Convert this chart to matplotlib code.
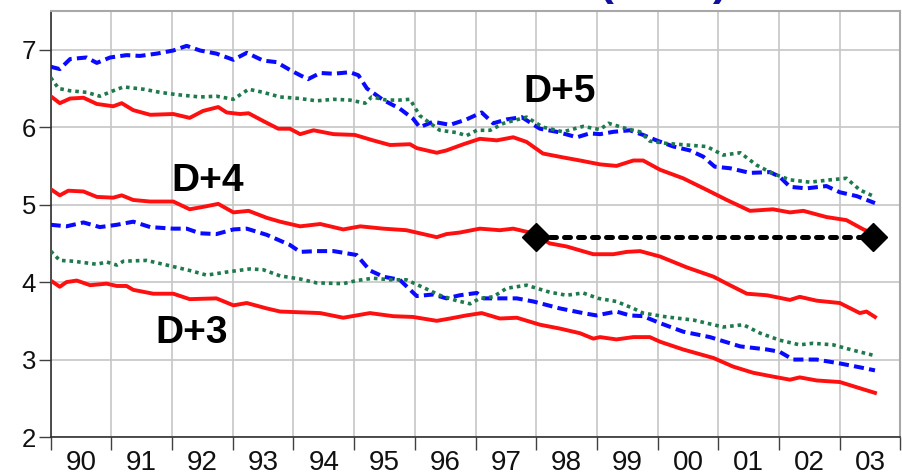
import matplotlib
matplotlib.use("Agg")
import matplotlib.pyplot as plt
from matplotlib.ticker import FixedLocator, NullFormatter, FixedFormatter

plt.rcParams['font.family'] = ['Liberation Sans', 'DejaVu Sans']

# ---------------- data ----------------
year_labels = ['90', '91', '92', '93', '94', '95', '96', '97', '98', '99', '00', '01', '02', '03']
year_start = 1990

# D+5 group
d5_blue_t = [1990.00, 1990.15, 1990.32, 1990.59, 1990.76, 1990.98, 1991.25, 1991.47, 1991.75, 1992.02,
             1992.24, 1992.46, 1992.73, 1993.01, 1993.23, 1993.50, 1993.72, 1993.94, 1994.11, 1994.24,
             1994.44, 1994.66, 1994.93, 1995.07, 1995.21, 1995.48, 1995.75, 1995.97, 1996.08, 1996.30,
             1996.58, 1996.85, 1997.10, 1997.29, 1997.51, 1997.76, 1998.06, 1998.34, 1998.67, 1998.88,
             1999.05, 1999.27, 1999.54, 1999.76, 1999.98, 2000.26, 2000.53, 2000.75, 2000.94, 2001.19,
             2001.52, 2001.85, 2002.01, 2002.18, 2002.45, 2002.78, 2003.00, 2003.28, 2003.58]
d5_blue_v = [6.78, 6.75, 6.88, 6.90, 6.83, 6.90, 6.93, 6.92, 6.95, 6.99,
             7.05, 6.99, 6.95, 6.87, 6.96, 6.86, 6.84, 6.74, 6.67, 6.62,
             6.70, 6.69, 6.71, 6.67, 6.50, 6.35, 6.24, 6.11, 6.00, 6.07,
             6.03, 6.10, 6.19, 6.05, 6.10, 6.13, 5.98, 5.94, 5.87, 5.92,
             5.91, 5.94, 5.96, 5.90, 5.83, 5.75, 5.70, 5.62, 5.49, 5.47,
             5.41, 5.42, 5.36, 5.23, 5.21, 5.24, 5.16, 5.11, 5.02]

d5_green_t = [1990.00, 1990.13, 1990.32, 1990.59, 1990.81, 1991.03, 1991.20, 1991.53, 1991.80, 1992.08,
              1992.46, 1992.73, 1993.01, 1993.26, 1993.50, 1993.78, 1994.11, 1994.38, 1994.66, 1994.93,
              1995.18, 1995.29, 1995.53, 1995.75, 1995.92, 1996.08, 1996.41, 1996.69, 1996.85, 1997.02,
              1997.24, 1997.46, 1997.84, 1998.11, 1998.44, 1998.77, 1999.05, 1999.19, 1999.49, 1999.71,
              1999.87, 2000.15, 2000.48, 2000.81, 2001.08, 2001.36, 2001.63, 2001.90, 2002.18, 2002.51,
              2002.84, 2003.11, 2003.33, 2003.58]
d5_green_v = [6.64, 6.50, 6.47, 6.45, 6.40, 6.47, 6.52, 6.49, 6.45, 6.42,
              6.39, 6.40, 6.36, 6.49, 6.45, 6.39, 6.37, 6.34, 6.36, 6.35,
              6.31, 6.39, 6.35, 6.35, 6.36, 6.15, 5.96, 5.93, 5.89, 5.96,
              5.96, 6.05, 6.13, 6.00, 5.94, 6.01, 5.97, 6.05, 5.98, 5.94,
              5.82, 5.79, 5.77, 5.75, 5.64, 5.67, 5.51, 5.40, 5.32, 5.29,
              5.32, 5.34, 5.19, 5.10]

d5_red_t = [1990.00, 1990.15, 1990.32, 1990.54, 1990.76, 1991.03, 1991.17, 1991.36, 1991.64, 1992.02,
            1992.29, 1992.51, 1992.76, 1992.90, 1993.12, 1993.26, 1993.50, 1993.75, 1993.94, 1994.11,
            1994.33, 1994.66, 1995.01, 1995.31, 1995.59, 1995.92, 1996.03, 1996.36, 1996.52, 1996.80,
            1997.07, 1997.35, 1997.62, 1997.84, 1998.11, 1998.44, 1998.72, 1999.05, 1999.32, 1999.60,
            1999.76, 2000.04, 2000.42, 2000.81, 2001.14, 2001.52, 2001.90, 2002.18, 2002.40, 2002.78,
            2003.11, 2003.39, 2003.58]
d5_red_v = [6.40, 6.31, 6.37, 6.38, 6.30, 6.27, 6.31, 6.22, 6.16, 6.17,
            6.12, 6.21, 6.26, 6.19, 6.17, 6.18, 6.08, 5.98, 5.98, 5.91,
            5.96, 5.91, 5.90, 5.83, 5.77, 5.78, 5.73, 5.67, 5.70, 5.78,
            5.85, 5.83, 5.87, 5.81, 5.66, 5.61, 5.57, 5.52, 5.50, 5.57,
            5.57, 5.45, 5.34, 5.19, 5.06, 4.92, 4.94, 4.90, 4.92, 4.84,
            4.80, 4.68, 4.62]

# D+4 group
d4_red_t = [1990.00, 1990.15, 1990.29, 1990.54, 1990.76, 1991.03, 1991.17, 1991.36, 1991.64, 1992.02,
            1992.29, 1992.57, 1992.76, 1993.01, 1993.26, 1993.56, 1993.78, 1994.11, 1994.44, 1994.82,
            1995.10, 1995.48, 1995.86, 1996.36, 1996.52, 1996.74, 1997.07, 1997.40, 1997.62, 1997.95,
            1998.22, 1998.50, 1998.94, 1999.27, 1999.49, 1999.71, 2000.04, 2000.48, 2000.92, 2001.14,
            2001.47, 2001.80, 2002.18, 2002.34, 2002.62, 2003.00, 2003.33, 2003.44, 2003.58]
d4_red_v = [5.20, 5.12, 5.18, 5.17, 5.10, 5.09, 5.12, 5.06, 5.04, 5.04,
            4.94, 4.98, 5.01, 4.90, 4.92, 4.83, 4.78, 4.72, 4.75, 4.68,
            4.72, 4.69, 4.67, 4.58, 4.62, 4.64, 4.69, 4.67, 4.69, 4.63,
            4.50, 4.46, 4.36, 4.36, 4.39, 4.40, 4.33, 4.19, 4.07, 3.98,
            3.85, 3.83, 3.77, 3.81, 3.76, 3.73, 3.60, 3.62, 3.55]

d4_blue_t = [1990.00, 1990.26, 1990.54, 1990.81, 1991.09, 1991.36, 1991.64, 1992.02, 1992.24, 1992.46,
             1992.73, 1993.01, 1993.23, 1993.56, 1993.94, 1994.11, 1994.38, 1994.66, 1995.04, 1995.26,
             1995.48, 1995.75, 1996.03, 1996.30, 1996.52, 1996.74, 1997.02, 1997.13, 1997.40, 1997.68,
             1997.95, 1998.39, 1998.77, 1998.99, 1999.32, 1999.54, 1999.76, 2000.04, 2000.42, 2000.86,
             2001.36, 2001.80, 2002.01, 2002.23, 2002.62, 2003.00, 2003.33, 2003.58]
d4_blue_v = [4.74, 4.72, 4.77, 4.71, 4.74, 4.78, 4.71, 4.69, 4.69, 4.63,
             4.62, 4.68, 4.69, 4.61, 4.48, 4.39, 4.40, 4.40, 4.35, 4.15,
             4.07, 4.03, 3.82, 3.84, 3.79, 3.83, 3.86, 3.79, 3.79, 3.79,
             3.75, 3.66, 3.60, 3.57, 3.62, 3.57, 3.56, 3.47, 3.36, 3.29,
             3.17, 3.13, 3.10, 3.00, 3.00, 2.95, 2.90, 2.86]

d4_green_t = [1990.00, 1990.15, 1990.37, 1990.76, 1990.92, 1991.09, 1991.20, 1991.58, 1992.02, 1992.29,
              1992.57, 1992.90, 1993.28, 1993.50, 1993.78, 1994.11, 1994.38, 1994.82, 1995.04, 1995.31,
              1995.59, 1995.86, 1996.14, 1996.41, 1996.69, 1996.91, 1997.07, 1997.29, 1997.51, 1997.84,
              1998.22, 1998.50, 1998.77, 1999.02, 1999.32, 1999.60, 1999.76, 2000.15, 2000.59, 2001.08,
              2001.41, 2001.69, 2002.01, 2002.34, 2002.56, 2002.89, 2003.22, 2003.58]
d4_green_v = [4.40, 4.28, 4.27, 4.23, 4.26, 4.22, 4.27, 4.28, 4.20, 4.15,
              4.09, 4.13, 4.17, 4.16, 4.08, 4.04, 3.99, 3.98, 4.02, 4.05,
              4.03, 4.03, 3.93, 3.83, 3.76, 3.72, 3.79, 3.81, 3.92, 3.96,
              3.87, 3.83, 3.86, 3.79, 3.75, 3.66, 3.60, 3.55, 3.51, 3.42,
              3.45, 3.34, 3.25, 3.19, 3.21, 3.19, 3.12, 3.05]

# D+3 group
d3_red_t = [1990.00, 1990.15, 1990.26, 1990.43, 1990.65, 1990.92, 1991.09, 1991.25, 1991.36, 1991.69,
            1992.02, 1992.29, 1992.73, 1993.01, 1993.23, 1993.56, 1993.78, 1994.11, 1994.44, 1994.82,
            1995.26, 1995.64, 1995.97, 1996.36, 1996.58, 1996.85, 1997.10, 1997.40, 1997.68, 1998.06,
            1998.39, 1998.72, 1998.94, 1999.05, 1999.32, 1999.60, 1999.87, 2000.04, 2000.42, 2000.92,
            2001.24, 2001.57, 2001.90, 2002.18, 2002.34, 2002.62, 2003.00, 2003.33, 2003.58]
d3_red_v = [4.02, 3.94, 4.00, 4.02, 3.96, 3.98, 3.95, 3.95, 3.90, 3.85,
            3.85, 3.78, 3.79, 3.70, 3.73, 3.66, 3.62, 3.61, 3.60, 3.54,
            3.60, 3.56, 3.55, 3.50, 3.53, 3.57, 3.60, 3.53, 3.54, 3.45,
            3.40, 3.34, 3.27, 3.29, 3.26, 3.29, 3.29, 3.23, 3.13, 3.02,
            2.91, 2.83, 2.78, 2.74, 2.77, 2.73, 2.71, 2.63, 2.57]

# black reference segment
ref_t = [1998.0, 2003.54]
ref_v = [4.58, 4.58]

# annotations
group_labels = ['D+3', 'D+4', 'D+5']
group_label_t = [1992.33, 1992.59, 1998.39]
group_label_v = [3.34, 5.30, 6.45]

# ---------------- plot ----------------
RED = '#ff1010'
BLUE = '#0a0aff'
GREEN = '#1e7a4c'

fig = plt.figure(figsize=(9.02, 4.76), dpi=100)
ax = fig.add_axes([0.0562, 0.0819, 0.9421, 0.8950])

ax.set_xlim(1990, 2004)
ax.set_ylim(2, 7.5)

BLUE_DASH = (2.5, 1.3)
GREEN_DOT = (1.0, 1.1)

ax.plot(d5_blue_t, d5_blue_v, color=BLUE, lw=2.9, dashes=BLUE_DASH, zorder=3)
ax.plot(d5_green_t, d5_green_v, color=GREEN, lw=2.6, dashes=GREEN_DOT, zorder=3)
ax.plot(d5_red_t, d5_red_v, color=RED, lw=2.8, zorder=3)

ax.plot(d4_red_t, d4_red_v, color=RED, lw=2.8, zorder=3)
ax.plot(d4_blue_t, d4_blue_v, color=BLUE, lw=2.9, dashes=BLUE_DASH, zorder=3)
ax.plot(d4_green_t, d4_green_v, color=GREEN, lw=2.6, dashes=GREEN_DOT, zorder=3)

ax.plot(d3_red_t, d3_red_v, color=RED, lw=2.8, zorder=3)

ax.plot(ref_t, ref_v, color='black', lw=3.6, dashes=(1.2, 1.6), dash_capstyle='round',
        marker='D', markersize=14, zorder=4)

for lab, t, v in zip(group_labels, group_label_t, group_label_v):
    ax.text(t, v, lab, fontsize=28, fontweight='bold', ha='center', va='center', color='black', zorder=5)

# ticks
years = list(range(year_start, year_start + len(year_labels) + 1))
ax.xaxis.set_major_locator(FixedLocator(years))
ax.xaxis.set_major_formatter(NullFormatter())
ax.xaxis.set_minor_locator(FixedLocator([y + 0.5 for y in years[:-1]]))
ax.xaxis.set_minor_formatter(FixedFormatter(year_labels))
ax.tick_params(axis='x', which='major', length=9.5, width=1.0, color='#404040', direction='out')
ax.tick_params(axis='x', which='minor', length=0, pad=9, labelsize=20, labelcolor='#111111')

ax.set_yticks([2, 3, 4, 5, 6, 7])
ax.tick_params(axis='y', length=8.5, width=1.0, color='#404040', pad=2, labelsize=18.5, labelcolor='#111111')

ax.grid(True, which='major', color='#c6c6c6', lw=1.2)
ax.set_axisbelow(True)

for side in ['top', 'right']:
    ax.spines[side].set_color('#a8a8a8')
    ax.spines[side].set_linewidth(1.5)
for side in ['left', 'bottom']:
    ax.spines[side].set_color('#303030')
    ax.spines[side].set_linewidth(1.2)

# title cut off at the top of the image (only the parentheses' lower parts show)
fig.text(0.736, 1.0 + 5.5 / 476, '(        )', fontsize=32, fontweight='bold',
         color='#10109a', ha='center', va='baseline')

fig.savefig('out.png', dpi=100)
